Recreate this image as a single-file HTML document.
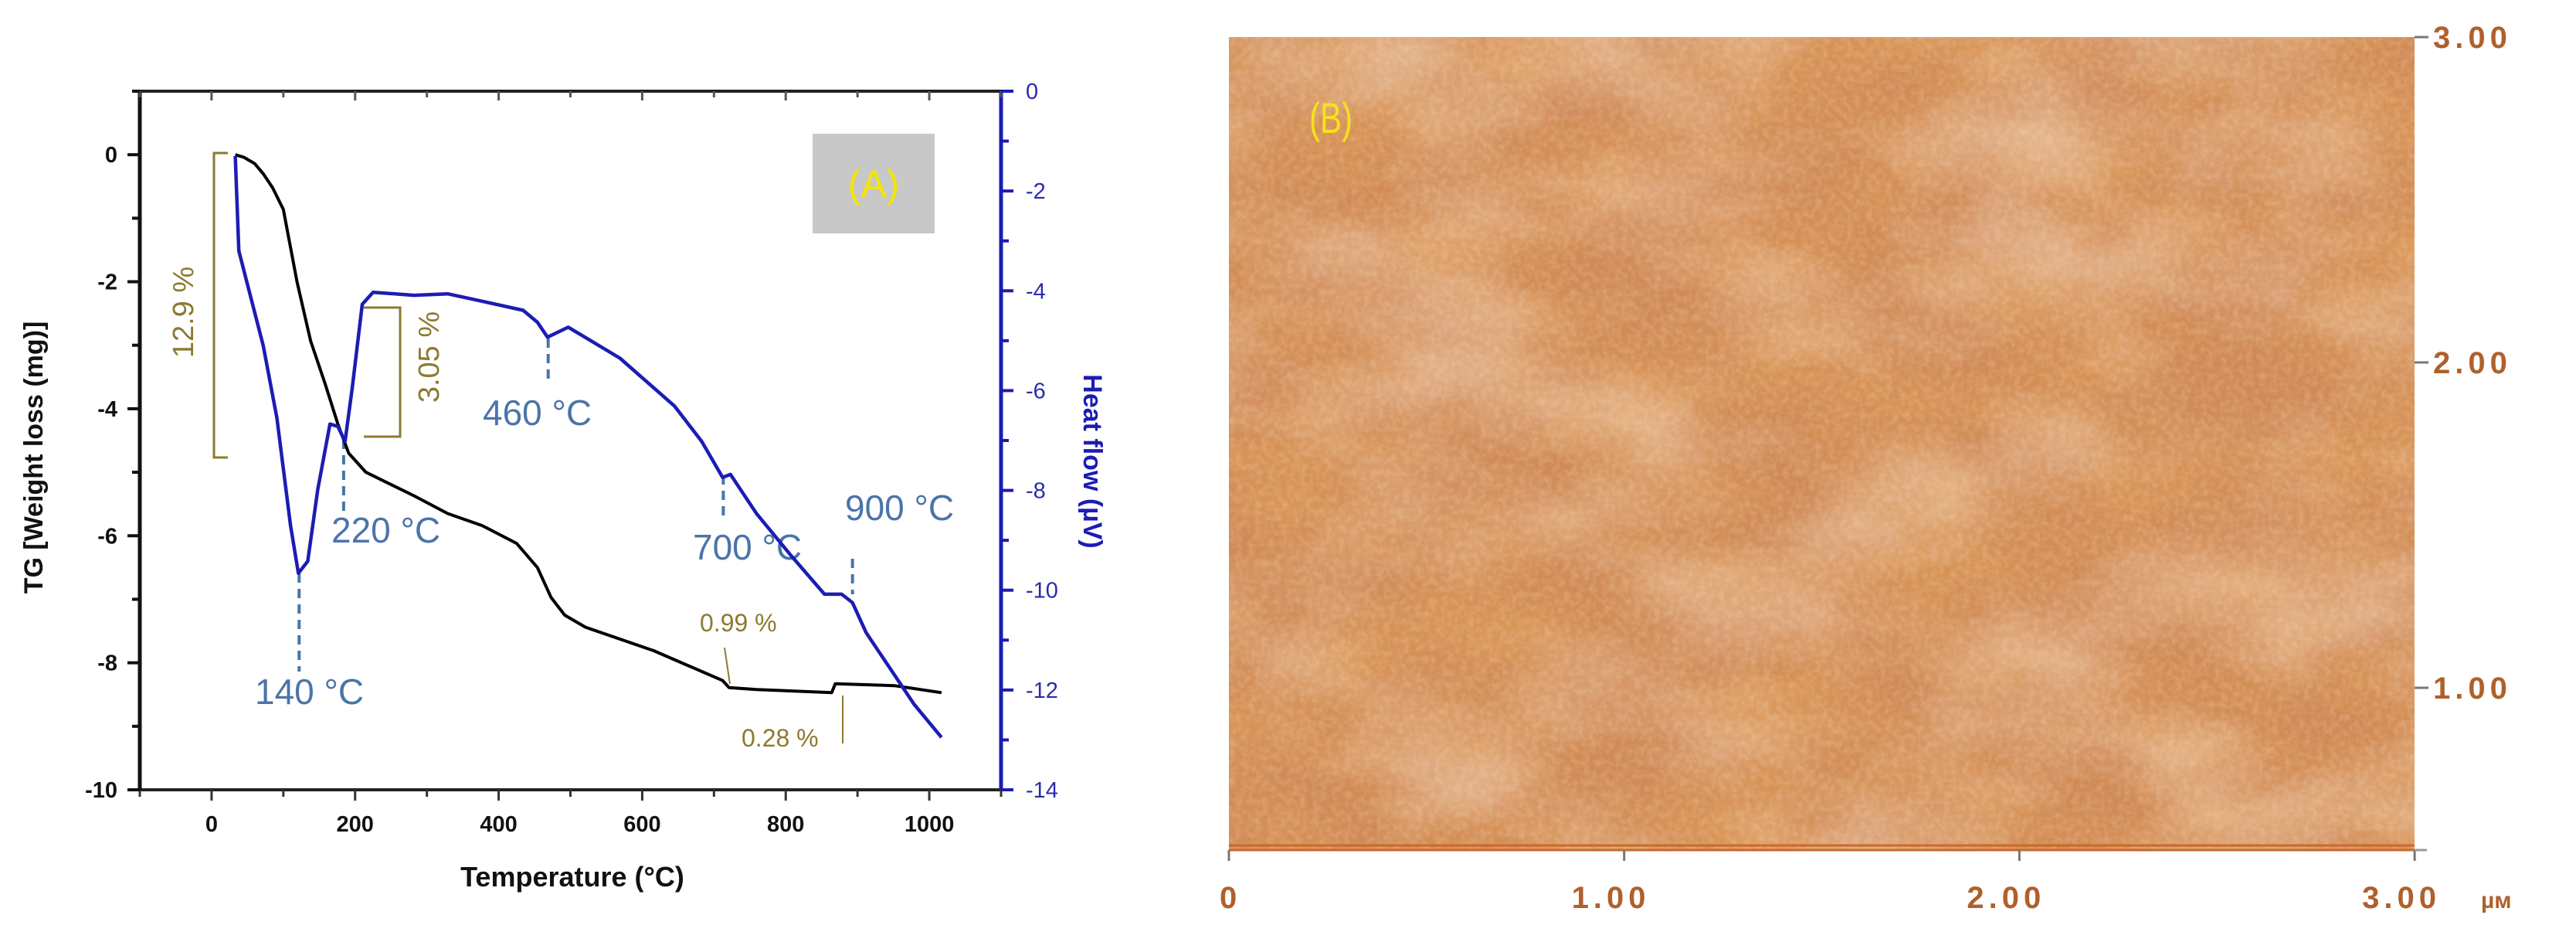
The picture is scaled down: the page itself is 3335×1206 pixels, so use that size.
<!DOCTYPE html>
<html><head><meta charset="utf-8"><style>
html,body{margin:0;padding:0;background:#fff;}
svg{display:block;}
text{font-family:"Liberation Sans",sans-serif;}
</style></head><body>
<svg id="fig" width="3335" height="1206" viewBox="0 0 3335 1206" xmlns="http://www.w3.org/2000/svg">
<defs>
<filter id="afmBig" x="0" y="0" width="100%" height="100%">
<feTurbulence type="fractalNoise" baseFrequency="0.004 0.007" numOctaves="4" seed="7"/>
<feColorMatrix type="matrix" values="0 0 0 0 0.96  0 0 0 0 0.82  0 0 0 0 0.70  1.6 0 0 0 -0.6"/>
</filter>
<filter id="afmDark" x="0" y="0" width="100%" height="100%">
<feTurbulence type="fractalNoise" baseFrequency="0.005 0.009" numOctaves="4" seed="21"/>
<feColorMatrix type="matrix" values="0 0 0 0 0.74  0 0 0 0 0.34  0 0 0 0 0.10  1.8 0 0 0 -0.6"/>
</filter>
<filter id="afmFine" x="0" y="0" width="100%" height="100%">
<feTurbulence type="fractalNoise" baseFrequency="0.12" numOctaves="2" seed="3"/>
<feColorMatrix type="matrix" values="0 0 0 0 1  0 0 0 0 0.88  0 0 0 0 0.78  1.0 0 0 0 -0.35"/>
</filter>
</defs>

<!-- Panel A -->
<g id="panelA">
<rect x="1052" y="173" width="158" height="129" fill="#c8c8c8"/>
<text x="1131" y="255" font-size="50" fill="#f2e600" text-anchor="middle">(A)</text>
<g id="axesA"></g>
<g id="annotA"></g>
<path id="tgLine" fill="none" stroke="#000" stroke-width="4" stroke-linejoin="round"/>
<path id="hfLine" fill="none" stroke="#1c1cb4" stroke-width="4.5" stroke-linejoin="round"/>
<text transform="translate(55,592) rotate(-90)" font-size="34" font-weight="bold" text-anchor="middle" fill="#111">TG [Weight loss (mg)]</text>
<text transform="translate(1403,597) rotate(90)" font-size="34" font-weight="bold" text-anchor="middle" fill="#1c1cb4">Heat flow (µV)</text>
<text x="741" y="1147" font-size="36" font-weight="bold" text-anchor="middle" fill="#111">Temperature (°C)</text>
</g>

<!-- Panel B -->
<g id="panelB">
<rect x="1591" y="48" width="1535" height="1052" fill="#d08a55"/>
<rect x="1591" y="48" width="1535" height="1052" filter="url(#afmDark)" opacity="0.7"/>
<rect x="1591" y="48" width="1535" height="1052" filter="url(#afmBig)" opacity="0.5"/>
<rect x="1591" y="48" width="1535" height="1052" filter="url(#afmFine)" opacity="0.4"/>
<line x1="1591" y1="1094" x2="3126" y2="1094" stroke="#c86a2c" stroke-width="3"/>
<line x1="1591" y1="1100" x2="3126" y2="1100" stroke="#c86a2c" stroke-width="3"/>
<text x="1695" y="172" font-size="56" fill="#f5e21a" transform="translate(1695,0) scale(0.75,1) translate(-1695,0)">(B)</text>
<g id="axesB"></g>
</g>
</svg>
<script>
// ---- Panel A data ----
const tgTemps = [33,45,60,72,85,100,119,138,158,176,191,215,282,329,377,425,454,473,492,521,616,712,721,759,864,869,951,1017];
const tgValues = [0,-0.04,-0.14,-0.3,-0.52,-0.86,-2.0,-2.93,-3.6,-4.24,-4.7,-5.0,-5.37,-5.65,-5.84,-6.12,-6.5,-6.97,-7.25,-7.44,-7.81,-8.28,-8.39,-8.42,-8.47,-8.33,-8.36,-8.47];
const hfTemps = [33,38,72,91,110,121,134,148,165,176,186,196,210,225,282,329,377,434,454,468,497,569,645,683,712,723,759,807,854,878,893,912,951,979,1017];
const hfValues = [-1.3,-3.2,-5.1,-6.55,-8.7,-9.66,-9.42,-7.98,-6.67,-6.72,-7.02,-5.95,-4.27,-4.03,-4.09,-4.06,-4.21,-4.39,-4.63,-4.93,-4.73,-5.35,-6.31,-7.02,-7.74,-7.68,-8.46,-9.3,-10.08,-10.08,-10.25,-10.85,-11.69,-12.29,-12.95];
const xTickLabels = [0,200,400,600,800,1000];
const tgTickLabels = [0,-2,-4,-6,-8,-10];
const hfTickLabels = [0,-2,-4,-6,-8,-10,-12,-14];
const peakTemps = [140,220,460,700,900];
const peakMarkerTemps = [122,184,469,713,893];
// ---- Panel B axes data ----
const afmXTicks = [0,1,2,3];
const afmYTicks = [1,2,3];

const NS='http://www.w3.org/2000/svg';
const L=181,R=1296,T=118,B=1022;
const X=t=>L+(t+100)/1200*(R-L);
const YT=v=>T+(1-v)/11*(B-T);
const YH=v=>T+(-v)/14*(B-T);
function mk(tag,attrs,parent){const e=document.createElementNS(NS,tag);for(const k in attrs)e.setAttribute(k,attrs[k]);parent.appendChild(e);return e;}

const ax=document.getElementById('axesA');
let e;
e=mk('line',{x1:L,y1:T,x2:R,y2:T,stroke:'#222','stroke-width':4},ax);


e=mk('line',{x1:L,y1:B,x2:R,y2:B,stroke:'#222','stroke-width':4},ax);


e=mk('line',{x1:L,y1:T,x2:L,y2:B,stroke:'#111','stroke-width':5},ax);


e=mk('line',{x1:R,y1:T,x2:R,y2:B,stroke:'#1c1cb4','stroke-width':5},ax);


for(let t=-100;t<=1100;t+=100){
  const major=(t%200===0);
  mk('line',{x1:X(t),y1:B,x2:X(t),y2:B+(major?14:9),stroke:'#333','stroke-width':3},ax);
  mk('line',{x1:X(t),y1:T,x2:X(t),y2:T+(major?12:8),stroke:'#555','stroke-width':3},ax);
}
xTickLabels.forEach(v=>{
  const t=mk('text',{x:X(v),y:1076,'font-size':29,'font-weight':'bold','text-anchor':'middle',fill:'#111'},ax);
  t.textContent=v;
  
  
});
for(let v=1;v>=-10;v--){
  mk('line',{x1:L-(v%2===0?16:10),y1:YT(v),x2:L,y2:YT(v),stroke:'#111','stroke-width':4},ax);
}
tgTickLabels.forEach(v=>{
  const t=mk('text',{x:152,y:YT(v)+10,'font-size':29,'font-weight':'bold','text-anchor':'end',fill:'#111'},ax);
  t.textContent=v;
  
  
});
for(let v=0;v>=-14;v--){
  mk('line',{x1:R,y1:YH(v),x2:R+(v%2===0?16:10),y2:YH(v),stroke:'#1c1cb4','stroke-width':4},ax);
}
hfTickLabels.forEach(v=>{
  const t=mk('text',{x:1328,y:YH(v)+10,'font-size':29,fill:'#2a2ab0'},ax);
  t.textContent=v;
  
  
});
document.getElementById('tgLine').setAttribute('d',tgTemps.map((t,i)=>(i?'L':'M')+X(t).toFixed(1)+','+YT(tgValues[i]).toFixed(1)).join(''));
document.getElementById('hfLine').setAttribute('d',hfTemps.map((t,i)=>(i?'L':'M')+X(t).toFixed(1)+','+YH(hfValues[i]).toFixed(1)).join(''));

const an=document.getElementById('annotA');
const olive='#8c7a30', steel='#4a74aa';
e=mk('path',{d:'M295,198 L277,198 L277,592 L295,592',fill:'none',stroke:olive,'stroke-width':3},an);


e=mk('path',{d:'M471,398 L518,398 L518,565 L471,565',fill:'none',stroke:olive,'stroke-width':3},an);


e=mk('text',{transform:'translate(250,404) rotate(-90)','font-size':38,fill:olive,'text-anchor':'middle'},an);
e.textContent='12.9 %';


e=mk('text',{transform:'translate(568,462) rotate(-90)','font-size':38,fill:olive,'text-anchor':'middle'},an);
e.textContent='3.05 %';


e=mk('line',{x1:938,y1:838,x2:945,y2:885,stroke:olive,'stroke-width':2},an);


e=mk('line',{x1:1091,y1:900,x2:1091,y2:962,stroke:olive,'stroke-width':2},an);


e=mk('text',{x:906,y:817,'font-size':32,fill:olive},an);
e.textContent='0.99 %';


e=mk('text',{x:960,y:966,'font-size':32,fill:olive},an);
e.textContent='0.28 %';


const dashY=[[742,869],[569,669],[438,492],[615,673],[723,769]];
const lblPos=[[330,911],[429,702],[625,550],[897,724],[1094,673]];
peakTemps.forEach((p,i)=>{
  const mx=X(peakMarkerTemps[i]);
  const l=mk('line',{x1:mx,y1:dashY[i][0],x2:mx,y2:dashY[i][1],stroke:steel,'stroke-width':4,'stroke-dasharray':'12,8'},an);
  
  
  const t=mk('text',{x:lblPos[i][0],y:lblPos[i][1],'font-size':46,fill:steel},an);
  t.textContent=p+' °C';
  
  
});

const bx=document.getElementById('axesB');
const BX=v=>1591+v*511.7, BY=v=>48+(3-v)*421;
const brown='#b0602c';
afmXTicks.forEach(v=>{
  mk('line',{x1:BX(v),y1:1100,x2:BX(v),y2:1114,stroke:'#777','stroke-width':3},bx);
  const t=mk('text',{x:BX(v)+(v===0?-12:-68),y:1175,'font-size':40,'font-weight':'bold','font-family':'DejaVu Sans Mono, monospace',fill:brown,'letter-spacing':'6'},bx);
  t.textContent=v===0?'0':v.toFixed(2);
  
  
});
mk('line',{x1:3126,y1:1100,x2:3142,y2:1100,stroke:'#999','stroke-width':3},bx);
e=mk('text',{x:3212,y:1175,'font-size':30,'font-weight':'bold','font-family':'DejaVu Sans, sans-serif',fill:brown},bx);
e.textContent='µм';


afmYTicks.forEach(v=>{
  mk('line',{x1:3126,y1:BY(v),x2:3144,y2:BY(v),stroke:'#777','stroke-width':3},bx);
  const t=mk('text',{x:3150,y:BY(v)+14,'font-size':40,'font-weight':'bold','font-family':'DejaVu Sans Mono, monospace',fill:brown,'letter-spacing':'6'},bx);
  t.textContent=v.toFixed(2);
  
  
});
</script>
</body></html>
